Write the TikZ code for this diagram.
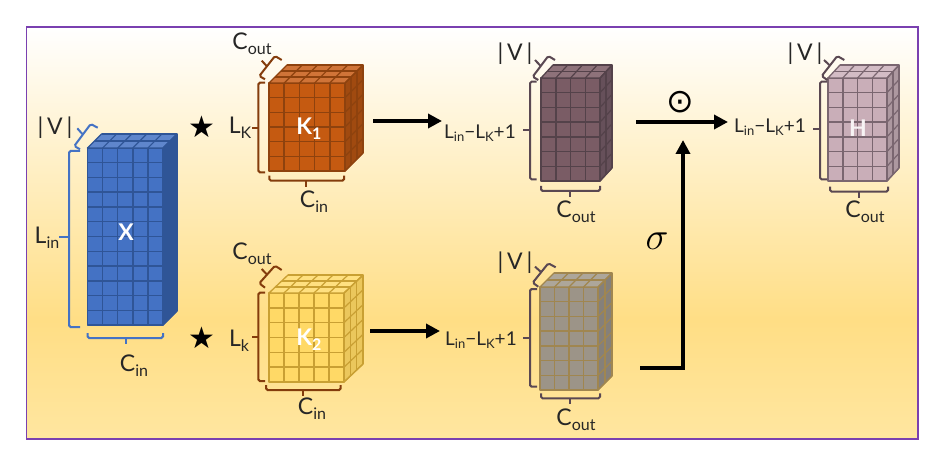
\documentclass[tikz,border=0pt]{standalone}
\usepackage{fontspec}
\setmainfont{Lato}
\newfontfamily\dejavu{DejaVu Sans}
\usetikzlibrary{arrows.meta}
\definecolor{frameC}{HTML}{7A40B0}
\definecolor{bgA}{HTML}{FFFFFF}
\definecolor{bgB}{HTML}{FFDE85}
\definecolor{bgC}{HTML}{FFE6A0}
\pgfdeclareverticalshading{bgshade}{100bp}{color(0bp)=(bgC); color(25bp)=(bgC); color(39.4bp)=(bgB); color(75bp)=(bgA); color(100bp)=(bgA)}
\definecolor{Xfront}{HTML}{4472C4}\definecolor{Xside}{HTML}{2F5597}\definecolor{Xtop}{HTML}{5F86CC}\definecolor{Xline}{HTML}{2F5597}
\definecolor{Afront}{HTML}{C55A11}\definecolor{Aside}{HTML}{A04A10}\definecolor{Atop}{HTML}{D07438}\definecolor{Aline}{HTML}{8E420E}
\definecolor{Bfront}{HTML}{FFD966}\definecolor{Bside}{HTML}{EBC75C}\definecolor{Btop}{HTML}{FFE080}\definecolor{Bline}{HTML}{C9A033}
\definecolor{Cfront}{HTML}{7A5C65}\definecolor{Cside}{HTML}{66505A}\definecolor{Ctop}{HTML}{8E727A}\definecolor{Cline}{HTML}{54424A}
\definecolor{Dfront}{HTML}{9C9488}\definecolor{Dside}{HTML}{85807A}\definecolor{Dtop}{HTML}{ADA69A}\definecolor{Dline}{HTML}{A08650}
\definecolor{Efront}{HTML}{C9AEB8}\definecolor{Eside}{HTML}{AD98A0}\definecolor{Etop}{HTML}{D3BCC5}\definecolor{Eline}{HTML}{7A6670}
\definecolor{braceBlue}{HTML}{4472C4}
\definecolor{braceBrown}{HTML}{843C0C}
\definecolor{braceDark}{HTML}{5A4852}
\tikzset{
  x=1pt,y=-1pt,
  lab/.style={inner sep=0pt,font=\fontsize{23}{23}\selectfont,text=black!85},
  labs/.style={inner sep=0pt,font=\fontsize{19}{19}\selectfont,text=black!85},
  inlab/.style={inner sep=0pt,font=\fontsize{23}{23}\selectfont\bfseries,text=white},
  brace/.style={line width=2pt,rounded corners=1.6pt,line cap=butt},
  flow/.style={line width=4.5pt,-{Triangle[length=14pt,width=14pt]}},
}
\newcommand{\sbs}[1]{\raisebox{-5pt}{\fontsize{16}{16}\selectfont #1}}
\newcommand{\sbt}[1]{\raisebox{-3.5pt}{\fontsize{13}{13}\selectfont #1}}
\newcommand{\longlab}{L\sbt{in}−L\sbt{K}+1}
\newcommand{\cubedims}[3]{\def\nx{#1}\def\ny{#2}\def\nz{#3}}
\newcommand{\gridcube}[7]{
  \draw[#7line,line width=1.5pt,line join=round,fill=#7front] (#1,#2) rectangle (#3,#4);
  \draw[#7line,line width=1.3pt,line join=round,fill=#7side] (#3,#2) -- ({#3+#5},{#2-#6}) -- ({#3+#5},{#4-#6}) -- (#3,#4) -- cycle;
  \draw[#7line,line width=1.3pt,line join=round,fill=#7top] (#1,#2) -- ({#1+#5},{#2-#6}) -- ({#3+#5},{#2-#6}) -- (#3,#2) -- cycle;
  \foreach \i in {1,...,\nx}{
    \draw[#7line,line width=1.5pt] ({#1+\i*(#3-#1)/\nx},#2) -- ({#1+\i*(#3-#1)/\nx},#4);
    \draw[#7line,line width=1.2pt] ({#1+\i*(#3-#1)/\nx},#2) -- ({#1+\i*(#3-#1)/\nx+#5},{#2-#6});
  }
  \foreach \i in {1,...,\ny}{
    \draw[#7line,line width=1.5pt] (#1,{#2+\i*(#4-#2)/\ny}) -- (#3,{#2+\i*(#4-#2)/\ny});
    \draw[#7line,line width=1.2pt] (#3,{#2+\i*(#4-#2)/\ny}) -- ({#3+#5},{#2+\i*(#4-#2)/\ny-#6});
  }
  \foreach \i in {1,...,\nz}{
    \draw[#7line,line width=1.2pt] ({#3+\i*#5/\nz},{#2-\i*#6/\nz}) -- ({#3+\i*#5/\nz},{#4-\i*#6/\nz});
    \draw[#7line,line width=1.2pt] ({#1+\i*#5/\nz},{#2-\i*#6/\nz}) -- ({#3+\i*#5/\nz},{#2-\i*#6/\nz});
  }
}
\newcommand{\leftbrace}[7]{
  \draw[brace,#1] (#5,#3) -- (#2,#3) -- (#2,#4) -- (#5,#4);
  \draw[brace,#1] (#2,#6) -- (#7,#6);
}
\newcommand{\botbrace}[5]{
  \draw[brace,#1] (#2,{#4-5}) -- (#2,#4) -- (#3,#4) -- (#3,{#4-5});
  \draw[brace,#1] (#5,#4) -- (#5,{#4+6});
}
\newcommand{\diagbrace}[7]{
  \draw[brace,#1] #2 -- #3 -- #4 -- #5;
  \draw[brace,#1] #6 -- #7;
}
\begin{document}
\begin{tikzpicture}
\useasboundingbox (0,0) rectangle (944,462);
\fill[white] (0,0) rectangle (944,462);
\shade[shading=bgshade] (26.5,27) rectangle (918,439);
\draw[frameC,line width=1.1pt] (26.5,27) rectangle (918,439);

\cubedims{5}{12}{2}\gridcube{87.5}{148}{163}{325}{14}{14}{X}
\cubedims{5}{6}{3}\gridcube{269}{83}{345}{171}{18}{18}{A}
\cubedims{5}{6}{3}\gridcube{269}{293}{344}{382}{19}{18}{B}
\cubedims{4}{7}{2}\gridcube{541}{78}{600}{181}{12}{13}{C}
\cubedims{4}{7}{2}\gridcube{540}{287}{598}{390}{14}{14}{D}
\cubedims{4}{7}{2}\gridcube{828}{78}{887}{181}{12}{13}{E}

\node[inlab] (nX) at (126,232) {X};
\node[inlab] (nA) at (309,129) {K\sbs{\bfseries 1}};
\node[inlab] (nB) at (309,340) {K\sbs{\bfseries 2}};
\node[inlab,text=white!85!Efront] (nE) at (858,128) {H};

\leftbrace{braceBlue}{69}{151}{327}{80}{237}{59}
\botbrace{braceBlue}{87.5}{163}{338}{125.5}
\diagbrace{braceBlue}{(97.7,127.7)}{(90.7,124)}{(74.3,146)}{(80,149.3)}{(82.3,134)}{(77.3,128.3)}

\leftbrace{braceBrown}{258.3}{82.7}{172.3}{265}{127.7}{252}
\botbrace{braceBrown}{269.3}{344}{180.7}{306}
\diagbrace{braceBrown}{(281.7,60)}{(275,56)}{(259.3,76)}{(265,79.3)}{(266.7,66)}{(261.7,60.7)}

\leftbrace{braceBrown}{258.3}{292.7}{381}{265}{337.3}{252}
\botbrace{braceBrown}{266}{340.7}{390}{303.3}
\diagbrace{braceBrown}{(281.7,270)}{(275,265.7)}{(259.3,283.3)}{(265,287.7)}{(266.7,274.3)}{(261.7,269)}

\leftbrace{braceDark}{530}{81.7}{179.3}{536.7}{130}{523}
\botbrace{braceDark}{541}{600}{191}{570}
\diagbrace{braceDark}{(555,60)}{(548.3,56)}{(532.7,76.7)}{(538.3,80)}{(540.7,66)}{(535,60)}

\leftbrace{braceDark}{530}{289}{386.7}{537}{337.7}{523}
\botbrace{braceDark}{541}{600}{398.3}{570}
\diagbrace{braceDark}{(555.7,267.3)}{(548.3,263.3)}{(532.7,282.7)}{(538.3,286.7)}{(540.7,271.7)}{(535,266.7)}

\leftbrace{braceDark}{820}{81.7}{179.3}{827}{129.3}{813}
\botbrace{braceDark}{830}{888}{191.7}{859}
\diagbrace{braceDark}{(844.3,60)}{(837.3,56)}{(821.7,76)}{(827.3,80)}{(829.3,65)}{(824,60)}

\node[lab] (vX) at (55,128) {|\,V\,|};
\node[lab] (lX) at (47,238) {L\sbs{in}};
\node[lab] (cX) at (134,366) {C\sbs{in}};
\node[lab] (cA) at (252,44) {C\sbs{out}};
\node[lab] (lA) at (240,128) {L\sbs{K}};
\node[lab] (iA) at (314,202) {C\sbs{in}};
\node[lab] (cB) at (252,254) {C\sbs{out}};
\node[lab] (lB) at (239,341) {L\sbs{k}};
\node[lab] (iB) at (312,409) {C\sbs{in}};
\node[lab] (vC) at (515,54) {|\,V\,|};
\node[labs] (lC) at (480,133) {\longlab};
\node[lab] (oC) at (576,212) {C\sbs{out}};
\node[lab] (vD) at (515,263) {|\,V\,|};
\node[labs] (lD) at (481,340) {\longlab};
\node[lab] (oD) at (576,420) {C\sbs{out}};
\node[lab] (vE) at (805,54) {|\,V\,|};
\node[labs] (lE) at (770,127) {\longlab};
\node[lab] (oE) at (865,212) {C\sbs{out}};

\node[inner sep=0pt,font=\dejavu\fontsize{30}{30}\selectfont] (st1) at (202,127) {★};
\node[inner sep=0pt,font=\dejavu\fontsize{30}{30}\selectfont] (st2) at (202,338) {★};
\node[inner sep=0pt,font=\fontsize{24}{24}\selectfont,scale=1.55] (sig) at (657,241) {$\sigma$};
\node[inner sep=0pt,font=\dejavu\fontsize{33}{33}\selectfont] (odot) at (680,102) {⊙};

\coordinate (a1s) at (373,121); \coordinate (a1e) at (442,121);
\coordinate (a2s) at (370,331); \coordinate (a2e) at (440,331);
\coordinate (a3s) at (636,122); \coordinate (a3e) at (728,122);
\coordinate (a4s) at (640,368); \coordinate (a4c) at (683,368); \coordinate (a4e) at (683,140);
\draw[flow] (a1s) -- (a1e);
\draw[flow] (a2s) -- (a2e);
\draw[flow] (a3s) -- (a3e);
\draw[flow] (a4s) -- (a4c) -- (a4e);
\end{tikzpicture}
\end{document}
